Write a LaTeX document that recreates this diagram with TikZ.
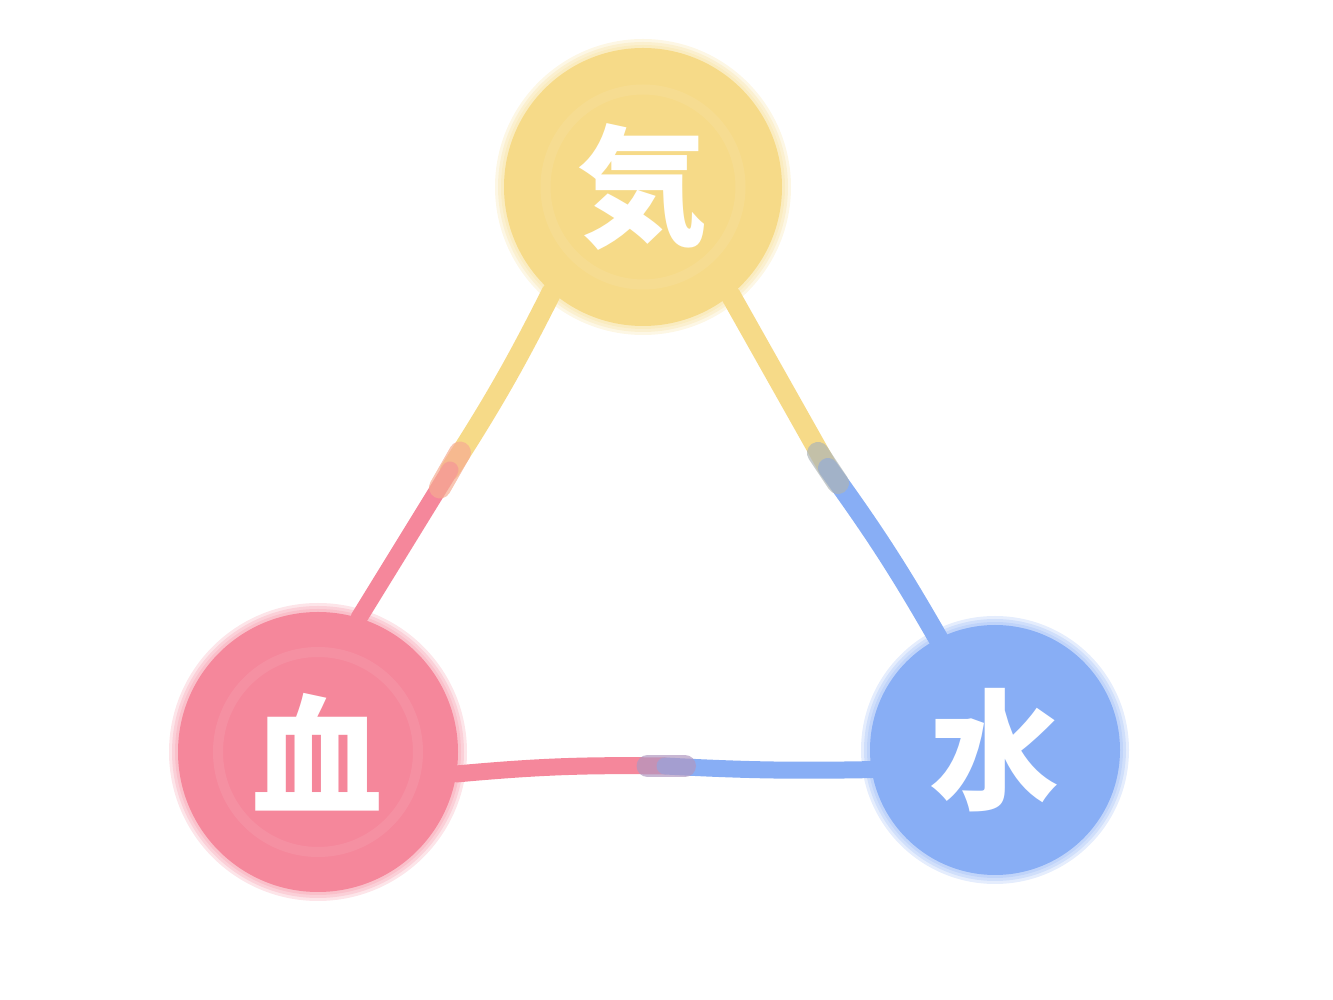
\documentclass[tikz,border=0pt]{standalone}
\usepackage{fontspec}
\newfontfamily\jpfont{Noto Sans CJK JP}
\usetikzlibrary{backgrounds}
\definecolor{qicol}{HTML}{F6DA88}
\definecolor{ketsucol}{HTML}{F5879B}
\definecolor{suicol}{HTML}{88AEF5}
\tikzset{
  elem/.style={circle,fill=#1,inner sep=0pt,text=white,
    font=\jpfont\bfseries\fontsize{74}{74}\selectfont},
  link/.style={line width=0.4cm,line cap=round},
  blend/.style={line width=0.44cm,line cap=round,opacity=0.7},
  glow/.style={fill=#1,opacity=0.22},
}
\begin{document}
\begin{tikzpicture}
\useasboundingbox (0,0) rectangle (26.66,20);
% 三つの円
\node[elem=qicol,minimum size=5.56cm] (qi) at (12.86,16.26) {気};
\node[elem=ketsucol,minimum size=5.6cm] (ketsu) at (6.36,4.96) {血};
\node[elem=suicol,minimum size=5.0cm] (sui) at (19.9,5.0) {水};
% 中間点
\coordinate (mQK) at (9.0,10.6);
\coordinate (mQS) at (16.56,10.64);
\coordinate (mKS) at (13.3,4.68);
\begin{pgfonlayer}{background}
% ぼかし
\foreach \d in {0.06,0.12,0.18}{
  \fill[glow=qicol] (qi.center) circle (2.78+\d);
  \fill[glow=ketsucol] (ketsu.center) circle (2.8+\d);
  \fill[glow=suicol] (sui.center) circle (2.5+\d);
}
% 線
\draw[link,qicol] (qi.229) to[bend left=3] (mQK);
\draw[link,ketsucol,line width=0.34cm] (mQK) -- (ketsu.73);
\draw[link,qicol] (qi.309) -- (mQS);
\draw[link,suicol] (mQS) to[bend left=3] (sui.117);
\draw[link,ketsucol,line width=0.34cm] (ketsu.351) to[bend left=3] (mKS);
\draw[link,suicol,line width=0.34cm] (mKS) to[bend right=2] (sui.189);
\draw[blend,qicol!45!ketsucol] ([shift={(0.2,0.35)}]mQK) -- ([shift={(-0.2,-0.35)}]mQK);
\draw[blend,qicol!45!suicol!80!gray] ([shift={(-0.2,0.3)}]mQS) -- ([shift={(0.2,-0.3)}]mQS);
\draw[blend,ketsucol!45!suicol!85!gray] ([shift={(-0.35,0)}]mKS) -- ([shift={(0.4,0)}]mKS);
\end{pgfonlayer}
% 内側の輪
\draw[white,opacity=0.08,line width=0.2cm] (qi.center) circle (1.95);
\draw[white,opacity=0.08,line width=0.2cm] (ketsu.center) circle (2.0);
\end{tikzpicture}
\end{document}
